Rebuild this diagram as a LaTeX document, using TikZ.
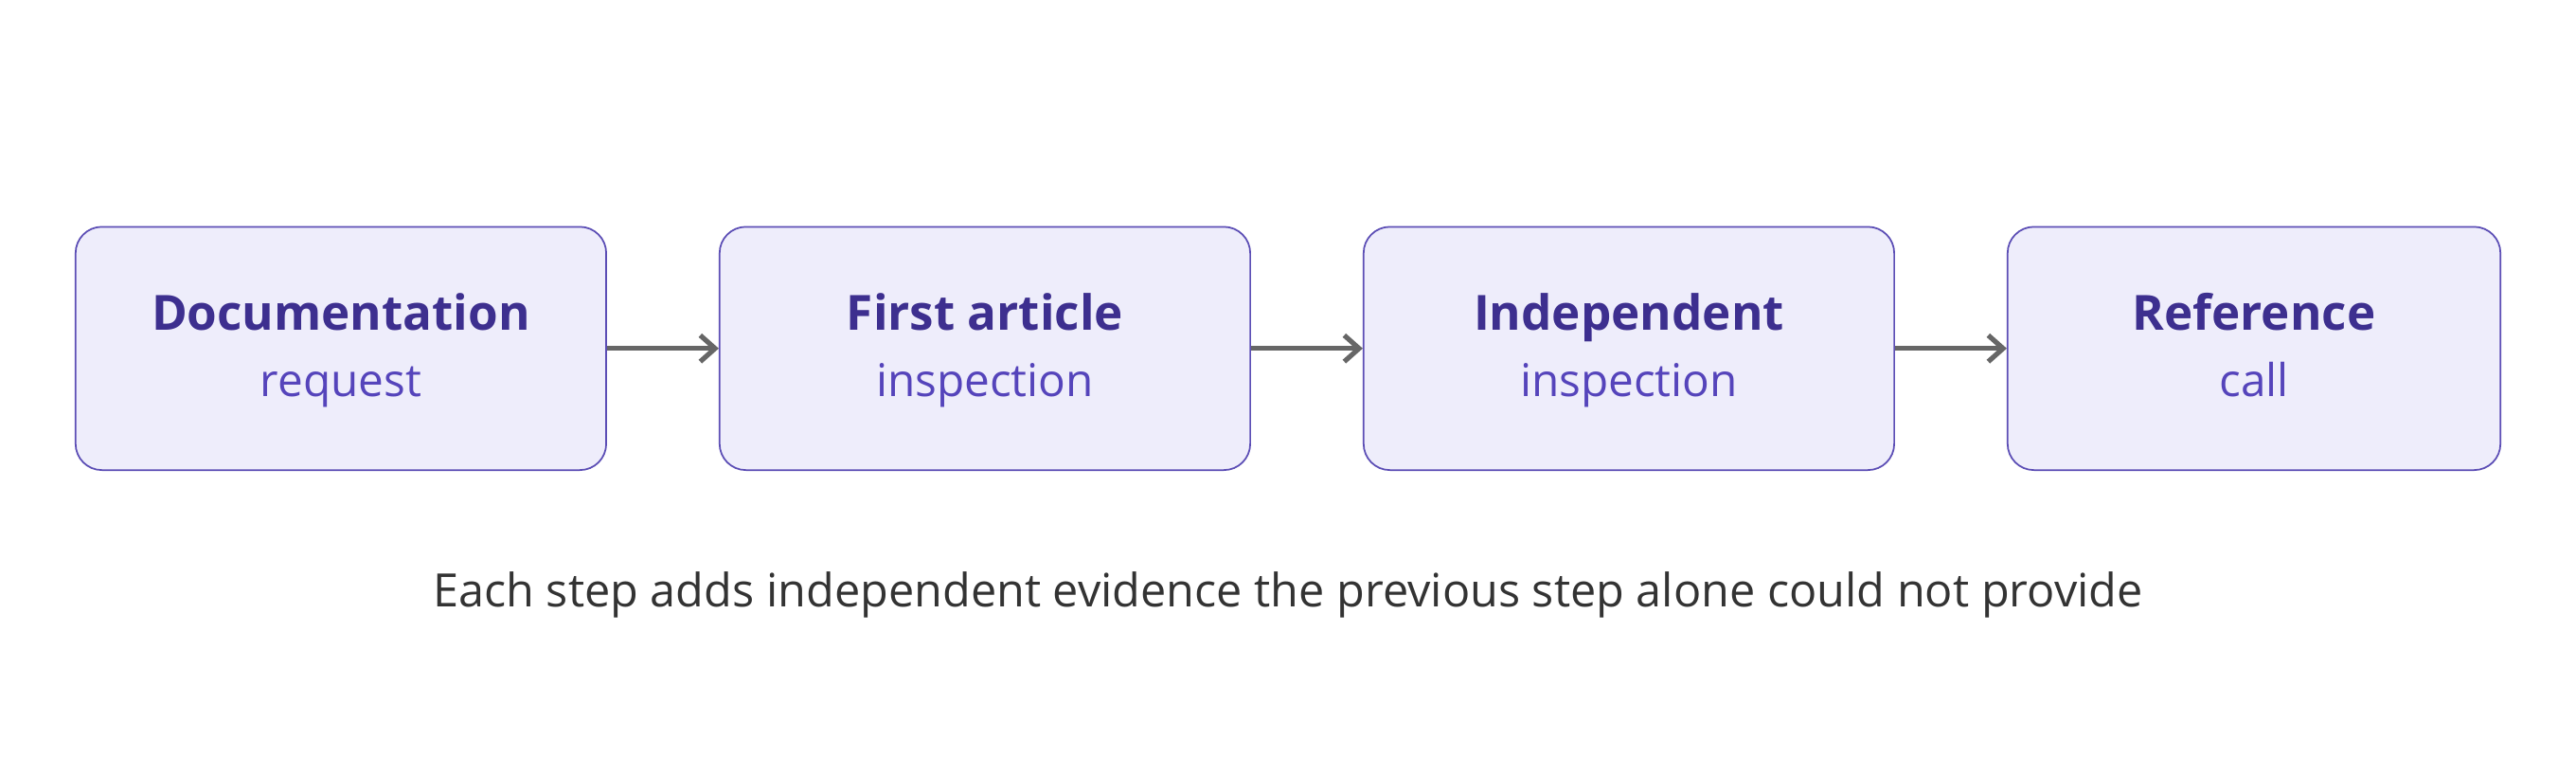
\documentclass[tikz,border=0pt]{standalone}
\usepackage{fontspec}
\setmainfont{Open Sans}
\usetikzlibrary{arrows.meta}
\definecolor{boxfill}{HTML}{EEEDFB}
\definecolor{boxdraw}{HTML}{5B4DB5}
\definecolor{ttl}{HTML}{3D2F8F}
\definecolor{sub}{HTML}{5544BB}
\definecolor{arr}{HTML}{666666}
\definecolor{cap}{HTML}{333333}
\tikzset{
 stepbox/.style={draw=boxdraw,fill=boxfill,line width=1pt,rounded corners=16pt,minimum height=148pt,align=center,inner sep=0pt},
 ttlf/.style={font=\fontsize{29.5}{34}\selectfont\bfseries,text=ttl},
 conn/.style={draw=arr,line width=3pt,-{Straight Barb[length=9pt,width=16pt,line width=3pt]}}
}
\begin{document}
\begin{tikzpicture}[x=1pt,y=-1pt]
\useasboundingbox[fill=white] (0,0) rectangle (1568,461);
\node[stepbox,minimum width=323pt] (a) at (207.5,212) {};
\node[stepbox,minimum width=323pt] (b) at (599.5,212) {};
\node[stepbox,minimum width=323pt] (c) at (991.5,212) {};
\node[stepbox,minimum width=300pt] (d) at (1372,212) {};
\foreach \n/\t/\s in {a/Documentation/request,b/First article/inspection,c/Independent/inspection,d/Reference/call}{
 \node[ttlf,anchor=base] (\n t) at ([yshift=11pt]\n.center) {\t};
 \node[font=\fontsize{27.5}{32}\selectfont,text=sub,anchor=base] (\n s) at ([yshift=-29pt]\n.center) {\s};
}
\draw[conn] (a.east) -- (b.west);
\draw[conn] (b.east) -- (c.west);
\draw[conn] (c.east) -- (d.west);
\node[font=\fontsize{28}{32}\selectfont,text=cap,anchor=base] (caption) at (784,369) {Each step adds independent evidence the previous step alone could not provide};
\end{tikzpicture}
\end{document}
